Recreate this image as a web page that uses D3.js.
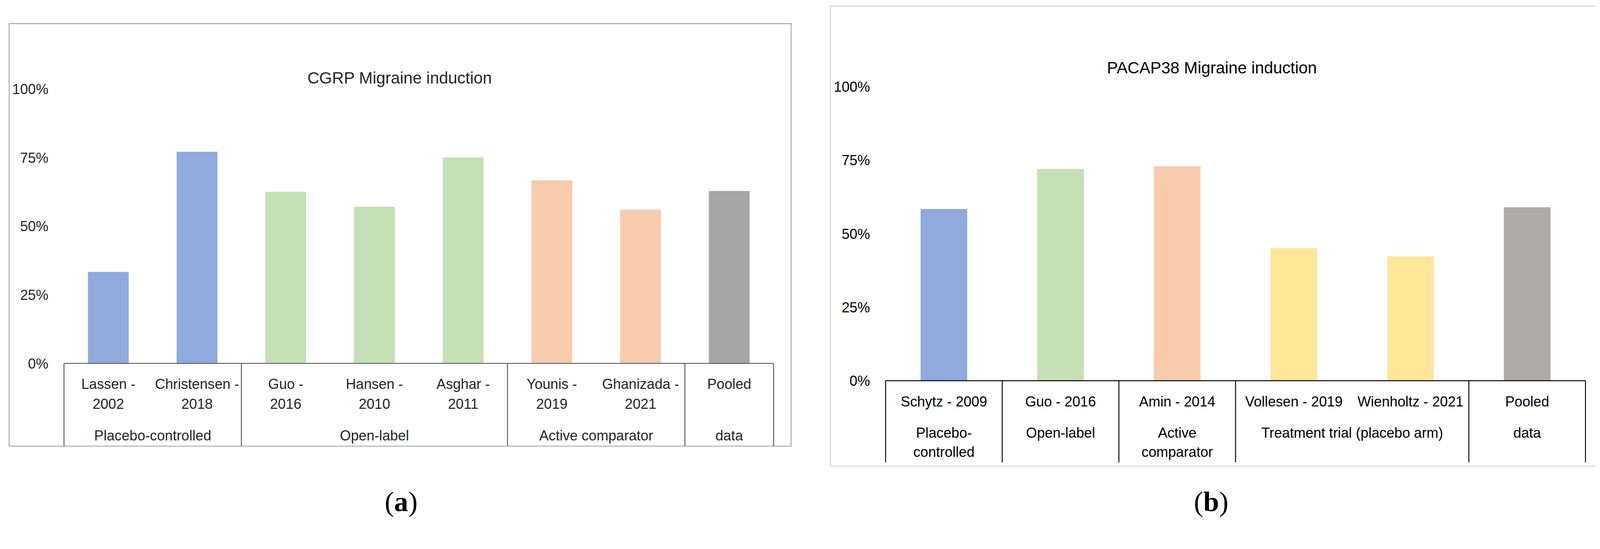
<!DOCTYPE html>
<html>
<head>
<meta charset="utf-8">
<script src="https://cdn.jsdelivr.net/npm/d3@7"></script>
<style>
  html, body { margin: 0; padding: 0; background: #fff; overflow: hidden; }
  svg { display: block; width: 100vw; height: 100vh; }
  text { font-family: "Liberation Sans", Arial, sans-serif; }
</style>
</head>
<body>
<svg id="chart"></svg>
<script>
// ---- data (percent of participants with migraine) ----
var cgrpStudies = ["Lassen - 2002", "Christensen - 2018", "Guo - 2016", "Hansen - 2010",
  "Asghar - 2011", "Younis - 2019", "Ghanizada - 2021", "Pooled"];
var cgrpGroups = ["Placebo-controlled", "Placebo-controlled", "Open-label", "Open-label",
  "Open-label", "Active comparator", "Active comparator", "data"];
var cgrpValues = [33.3, 77.1, 62.5, 57.1, 75.0, 66.7, 56.0, 62.8];

var pacapStudies = ["Schytz - 2009", "Guo - 2016", "Amin - 2014", "Vollesen - 2019",
  "Wienholtz - 2021", "Pooled"];
var pacapGroups = ["Placebo-controlled", "Open-label", "Active comparator",
  "Treatment trial (placebo arm)", "Treatment trial (placebo arm)", "data"];
var pacapValues = [58.4, 72.0, 72.9, 45.1, 42.3, 59.0];

var yTicks = [0, 25, 50, 75, 100];

// colours by study design
var cgrpColors = {
  "Placebo-controlled": "#8faadc", "Open-label": "#c5e0b4",
  "Active comparator": "#f8cbad", "data": "#a5a5a5"
};
var pacapColors = {
  "Placebo-controlled": "#8faadc", "Open-label": "#c5e0b4",
  "Active comparator": "#f8cbad", "Treatment trial (placebo arm)": "#ffe699",
  "data": "#aeabab"
};

var width = 4300, height = 1406;
// scale to whatever viewport we get, pinned to the top-left corner
var svg = d3.select("#chart")
  .attr("viewBox", "0 0 " + width + " " + height)
  .attr("preserveAspectRatio", "xMinYMin meet");

// consecutive runs of the same group -> [{name, start, end}]
function groupRuns(groups) {
  var runs = [];
  groups.forEach(function (g, i) {
    var last = runs[runs.length - 1];
    if (last && last.name === g) last.end = i;
    else runs.push({ name: g, start: i, end: i });
  });
  return runs;
}

// word wrap on spaces and after hyphens, measured with a scratch text node
function wrapWords(text, maxWidth, size) {
  var tokens = text.match(/[^\s-]+-?|\s+/g).filter(function (t) { return t.trim() !== ""; });
  var probe = svg.append("text").attr("font-size", size);
  var lines = [], cur = "";
  tokens.forEach(function (t) {
    var sep = cur === "" || cur.slice(-1) === "-" ? "" : " ";
    var trial = cur + sep + t;
    probe.text(trial);
    if (cur !== "" && probe.node().getComputedTextLength() > maxWidth) {
      lines.push(cur);
      cur = t;
    } else cur = trial;
  });
  lines.push(cur);
  probe.remove();
  return lines;
}

function drawPanel(o) {
  var g = svg.append("g");

  // chart area frame
  g.append("path")
    .attr("d", o.frameSides)
    .attr("fill", "none")
    .attr("stroke", o.frameColor)
    .attr("stroke-width", o.frameWidth);

  var x = d3.scaleBand()
    .domain(o.studies)
    .range([o.x0, o.x1])
    .paddingInner(o.pad)
    .paddingOuter(o.pad / 2);

  var y = d3.scaleLinear().domain([0, 100]).range([o.y0, o.y100]);

  // bars
  g.selectAll("rect.bar")
    .data(o.values)
    .enter()
    .append("rect")
    .attr("class", "bar")
    .attr("x", function (d, i) { return x(o.studies[i]); })
    .attr("y", function (d) { return y(d); })
    .attr("width", x.bandwidth())
    .attr("height", function (d) { return y(0) - y(d); })
    .attr("fill", function (d, i) { return o.colors[o.groups[i]]; });

  // y axis labels only
  var yAxis = g.append("g")
    .attr("transform", "translate(" + o.tickRight + ",0)")
    .call(d3.axisLeft(y).tickValues(yTicks).tickSize(0).tickPadding(0)
      .tickFormat(function (d) { return d + "%"; }));
  yAxis.select(".domain").remove();
  yAxis.selectAll("text")
    .attr("font-size", o.fontSize)
    .attr("font-family", "Liberation Sans, Arial, sans-serif")
    .attr("fill", o.textColor)
    .attr("dy", "0.35em");

  // title
  g.append("text")
    .text(o.title)
    .attr("x", o.titleX)
    .attr("y", o.titleY)
    .attr("text-anchor", "middle")
    .attr("font-size", 44)
    .attr("fill", o.textColor);

  // grouped category table below the bars
  var step = x.step();
  var runs = groupRuns(o.groups);
  g.append("line")
    .attr("x1", o.x0).attr("x2", o.x1)
    .attr("y1", y(0)).attr("y2", y(0))
    .attr("stroke", o.tableColor).attr("stroke-width", 2.5);
  var cuts = [o.x0].concat(runs.map(function (r) { return o.x0 + (r.end + 1) * step; }));
  g.selectAll("line.cut")
    .data(cuts)
    .enter()
    .append("line")
    .attr("class", "cut")
    .attr("x1", function (d) { return d; })
    .attr("x2", function (d) { return d; })
    .attr("y1", y(0))
    .attr("y2", o.tableBottom)
    .attr("stroke", o.tableColor)
    .attr("stroke-width", 2.5);

  // study names
  g.selectAll("text.study")
    .data(o.studies)
    .enter()
    .append("text")
    .attr("class", "study")
    .attr("text-anchor", "middle")
    .attr("font-size", o.fontSize)
    .attr("fill", o.textColor)
    .each(function (d) {
      var t = d3.select(this);
      var cx = x(d) + x.bandwidth() / 2;
      o.studyLines(d).forEach(function (line, k) {
        t.append("tspan").attr("x", cx).attr("y", o.studyY + k * o.lineGap).text(line);
      });
    });

  // design labels spanning their studies
  g.selectAll("text.group")
    .data(runs)
    .enter()
    .append("text")
    .attr("class", "group")
    .attr("text-anchor", "middle")
    .attr("font-size", o.fontSize)
    .attr("fill", o.textColor)
    .each(function (r) {
      var t = d3.select(this);
      var cx = o.x0 + (r.start + r.end + 1) / 2 * step;
      var span = (r.end - r.start + 1) * step;
      wrapWords(r.name, span - 30, o.fontSize).forEach(function (line, k) {
        t.append("tspan").attr("x", cx).attr("y", o.groupY + k * o.lineGap).text(line);
      });
    });

  // panel letter
  var lab = g.append("text")
    .attr("x", o.letterX)
    .attr("y", 1374)
    .attr("text-anchor", "middle")
    .attr("font-family", "Liberation Serif, Times New Roman, serif")
    .attr("font-size", 76)
    .attr("fill", "#000");
  lab.append("tspan").text("(").attr("font-family", "Liberation Serif, serif");
  lab.append("tspan").text(o.letter).attr("font-weight", "bold").attr("font-family", "Liberation Serif, serif");
  lab.append("tspan").text(")").attr("font-family", "Liberation Serif, serif");
}

// (a) CGRP
drawPanel({
  studies: cgrpStudies, groups: cgrpGroups, values: cgrpValues, colors: cgrpColors,
  title: "CGRP Migraine induction", letter: "a",
  frameSides: "M24.5,63.5H2126V1199.5H24.5Z", frameColor: "#a8a8a8", frameWidth: 2.5,
  x0: 172, x1: 2079, pad: 0.54, y0: 977, y100: 239,
  tickRight: 130, titleX: 1074, titleY: 225, fontSize: 38,
  textColor: "#262626", tableColor: "#595959", tableBottom: 1199.5,
  studyLines: function (s) {
    var p = s.split(" - ");
    return p.length > 1 ? [p[0] + " -", p[1]] : [s];
  },
  studyY: 1046, groupY: 1184, lineGap: 53, letterX: 1078
});

// (b) PACAP38
drawPanel({
  studies: pacapStudies, groups: pacapGroups, values: pacapValues, colors: pacapColors,
  title: "PACAP38 Migraine induction", letter: "b",
  frameSides: "M4287,16.5H2232V1253H4287", frameColor: "#d9d9d9", frameWidth: 3,
  x0: 2380, x1: 4261, pad: 0.60, y0: 1023.6, y100: 233,
  tickRight: 2338, titleX: 3257, titleY: 197, fontSize: 38,
  textColor: "#000", tableColor: "#000", tableBottom: 1243,
  studyLines: function (s) { return [s]; },
  studyY: 1093, groupY: 1177, lineGap: 51.5, letterX: 3255
});
</script>
</body>
</html>
